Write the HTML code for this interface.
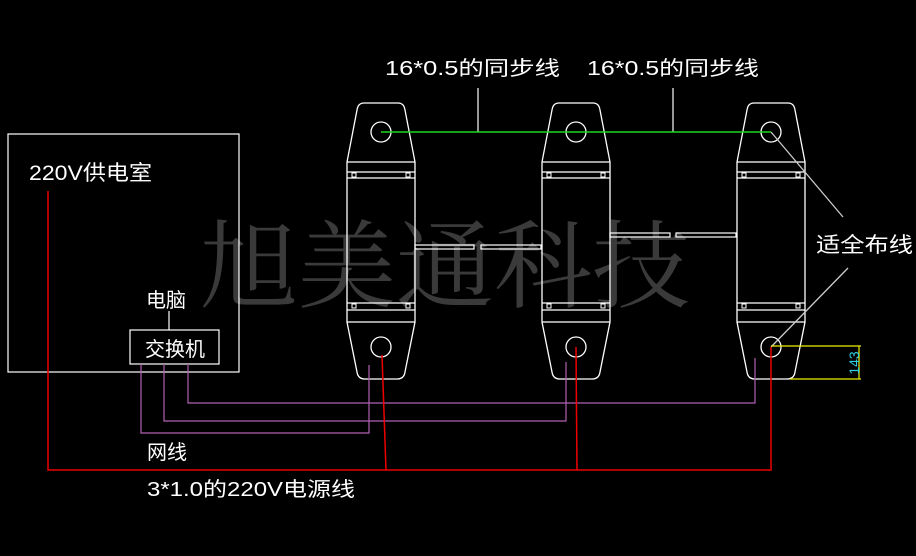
<!DOCTYPE html>
<html><head><meta charset="utf-8"><style>
html,body{margin:0;padding:0;background:#000;}
svg{display:block}
text{font-family:"Liberation Sans","Noto Sans CJK SC",sans-serif;fill:#fff}
</style></head><body>
<svg width="916" height="556" viewBox="0 0 916 556" xmlns="http://www.w3.org/2000/svg">
<defs>
<g id="u" fill="none" stroke="#fff" stroke-width="1.3">
<path d="M364 103 L398 103 Q404 103 405 110 L415 162 L415 322 L405 372 Q404 379 397 379 L365 379 Q358 379 357 372 L347 322 L347 162 L357 110 Q358 103 364 103 Z"/>
<line x1="347" y1="162" x2="415" y2="162"/>
<line x1="347" y1="172" x2="415" y2="172"/>
<line x1="347" y1="178" x2="415" y2="178"/>
<line x1="347" y1="303" x2="415" y2="303"/>
<line x1="347" y1="310" x2="415" y2="310"/>
<line x1="347" y1="322" x2="415" y2="322"/>
<rect x="352" y="173" width="4" height="4" stroke-width="1"/>
<rect x="406" y="173" width="4" height="4" stroke-width="1"/>
<rect x="352" y="304" width="4" height="4" stroke-width="1"/>
<rect x="406" y="304" width="4" height="4" stroke-width="1"/>
<circle cx="381" cy="132" r="10"/>
<circle cx="381" cy="347" r="10"/>
</g>
</defs>
<text x="200" y="300" style="font-family:'Noto Serif CJK SC','Liberation Serif',serif;font-size:96px;fill:#3a3a3a" textLength="490" lengthAdjust="spacingAndGlyphs">旭美通科技</text>
<use href="#u"/>
<use href="#u" transform="translate(195,0)"/>
<use href="#u" transform="translate(390,0)"/>
<g fill="none" stroke="#fff" stroke-width="1.2">
<rect x="415" y="245" width="59" height="4"/>
<rect x="481" y="245" width="60" height="4"/>
<rect x="610" y="233" width="60" height="4"/>
<rect x="676" y="233" width="60" height="4"/>
<rect x="8" y="134" width="231" height="238"/>
<rect x="130" y="330" width="89" height="34"/>
<line x1="169" y1="311" x2="169" y2="330"/>
<line x1="478" y1="88" x2="478" y2="132"/>
<line x1="673" y1="88" x2="673" y2="132"/>
</g>
<g stroke="#ccc" stroke-width="1.3">
<line x1="771" y1="132" x2="843" y2="217"/>
<line x1="848" y1="268" x2="771" y2="347"/>
</g>
<line x1="381" y1="132" x2="771" y2="132" stroke="#1ed81e" stroke-width="1.5"/>
<g fill="none" stroke="#b060b0" stroke-width="1.2">
<polyline points="141,364 141,433 369,433 369,365"/>
<polyline points="164,364 164,421 566,421 566,362"/>
<polyline points="188,364 188,403 755,403 755,358"/>
</g>
<g fill="none" stroke="#e00" stroke-width="1.5">
<polyline points="48,191 48,470 771,470 771,347"/>
<line x1="382" y1="355" x2="386" y2="470"/>
<line x1="576" y1="347" x2="577" y2="470"/>
</g>
<g fill="none" stroke="#ee0" stroke-width="1.2">
<line x1="771" y1="346" x2="861" y2="346"/>
<line x1="790" y1="379" x2="861" y2="379"/>
<line x1="859" y1="346" x2="859" y2="379"/>
</g>
<text transform="translate(859,363) rotate(-90)" text-anchor="middle" style="font-size:14px;fill:#2cd0e0">143</text>
<text x="29" y="180" style="font-size:21px" textLength="123" lengthAdjust="spacingAndGlyphs">220V供电室</text>
<text x="146" y="307" style="font-size:20px">电脑</text>
<text x="145" y="356" style="font-size:20px">交换机</text>
<text x="147" y="459" style="font-size:20px">网线</text>
<text x="147" y="496" style="font-size:20px" textLength="208" lengthAdjust="spacingAndGlyphs">3*1.0的220V电源线</text>
<text x="385" y="75" style="font-size:20px" textLength="175" lengthAdjust="spacingAndGlyphs">16*0.5的同步线</text>
<text x="587" y="75" style="font-size:20px" textLength="172" lengthAdjust="spacingAndGlyphs">16*0.5的同步线</text>
<text x="816" y="252" style="font-size:21px" textLength="97" lengthAdjust="spacingAndGlyphs">适全布线</text>
</svg>
</body></html>
